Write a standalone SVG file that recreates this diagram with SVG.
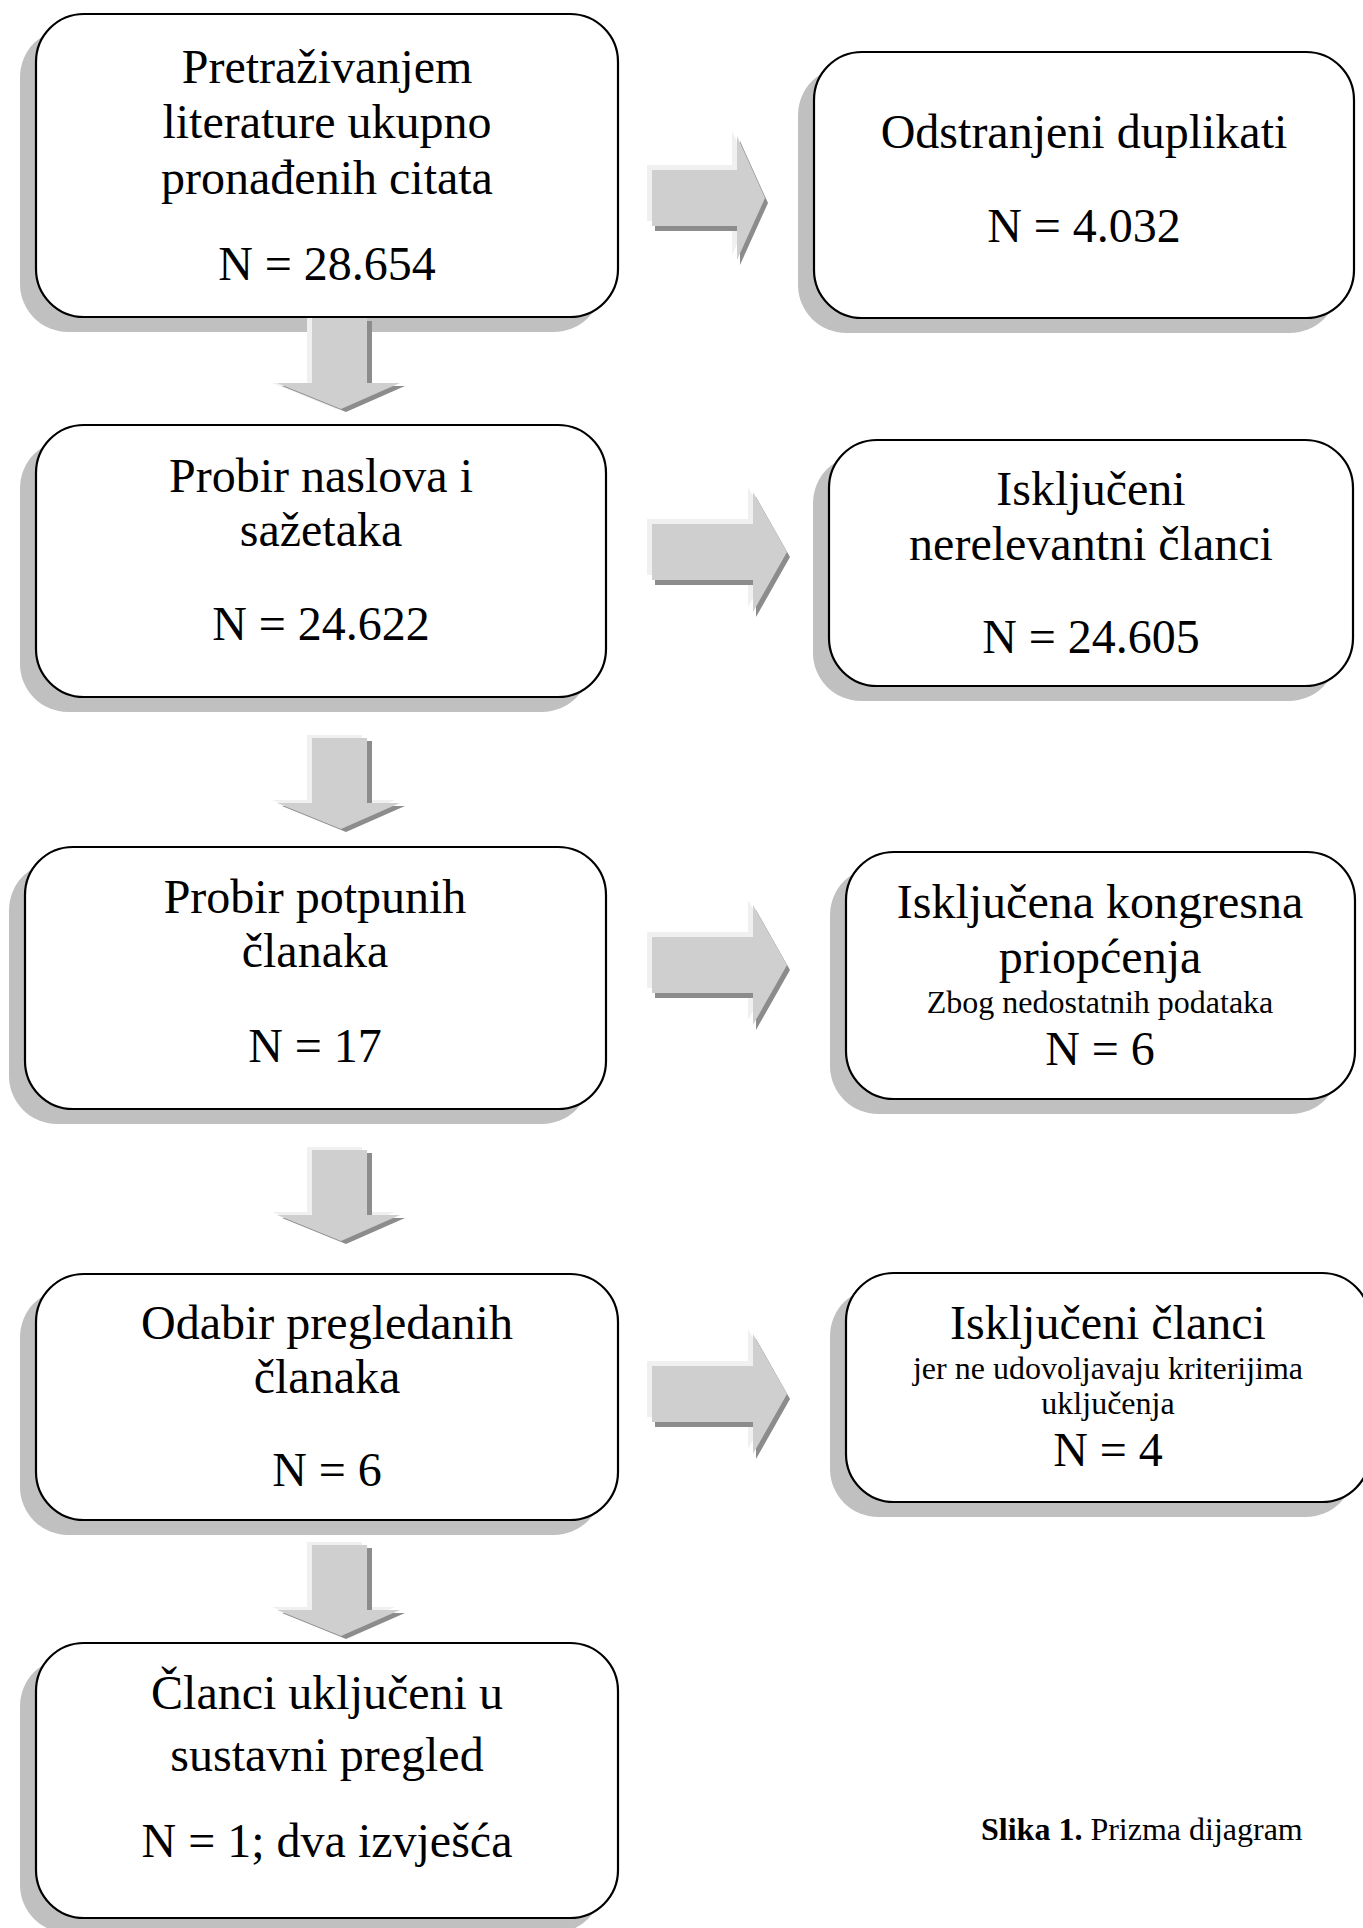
<svg xmlns="http://www.w3.org/2000/svg" xmlns:xlink="http://www.w3.org/1999/xlink" width="1363" height="1928" viewBox="0 0 1363 1928">
<defs>
<style>
.box{fill:#ffffff;stroke:#000000;stroke-width:2.2}
.shd{fill:#c0c0c0;stroke:none}
.t{font-family:"Liberation Serif","Times New Roman",serif;font-size:48px;fill:#000000;text-anchor:middle}
.s{font-size:32px}
.cap{font-family:"Liberation Serif","Times New Roman",serif;font-size:32px;fill:#000000}
.af{fill:#cfcfcf}
.ad{fill:#8c8c8c}
.ah{fill:#f0f0f0}
</style>
<path id="down" d="M312,0 H367 V65 H400 L341,91 L277,65 H312 Z"/>
<path id="right" d="M652,-28 H753 V-60 L787,0 L753,60 V28 H652 Z"/>
<path id="right1" d="M652,170 H737 V136 L765,198 L737,260 V226 H652 Z"/>
</defs>
<rect width="1363" height="1928" fill="#ffffff"/>

<g id="n1">
<rect class="shd" x="20" y="29" width="582" height="303" rx="48"/>
<rect class="box" x="36" y="14" width="582" height="303" rx="48"/>
<text class="t" x="327" y="83">Pretraživanjem</text>
<text class="t" x="327" y="138">literature ukupno</text>
<text class="t" x="327" y="194">pronađenih citata</text>
<text class="t" x="327" y="280">N = 28.654</text>
</g>

<g id="n2">
<rect class="shd" x="798" y="67" width="540" height="266" rx="48"/>
<rect class="box" x="814" y="52" width="540" height="266" rx="48"/>
<text class="t" x="1084" y="148">Odstranjeni duplikati</text>
<text class="t" x="1084" y="242">N = 4.032</text>
</g>

<g id="n3">
<rect class="shd" x="20" y="440" width="570" height="272" rx="48"/>
<rect class="box" x="36" y="425" width="570" height="272" rx="48"/>
<text class="t" x="321" y="492">Probir naslova i</text>
<text class="t" x="321" y="546">sažetaka</text>
<text class="t" x="321" y="640">N = 24.622</text>
</g>

<g id="n4">
<rect class="shd" x="813" y="455" width="524" height="246" rx="48"/>
<rect class="box" x="829" y="440" width="524" height="246" rx="48"/>
<text class="t" x="1091" y="505">Isključeni</text>
<text class="t" x="1091" y="560">nerelevantni članci</text>
<text class="t" x="1091" y="653">N = 24.605</text>
</g>

<g id="n5">
<rect class="shd" x="9" y="862" width="581" height="262" rx="48"/>
<rect class="box" x="25" y="847" width="581" height="262" rx="48"/>
<text class="t" x="315" y="913">Probir potpunih</text>
<text class="t" x="315" y="967">članaka</text>
<text class="t" x="315" y="1062">N = 17</text>
</g>

<g id="n6">
<rect class="shd" x="830" y="867" width="509" height="247" rx="48"/>
<rect class="box" x="846" y="852" width="509" height="247" rx="48"/>
<text class="t" x="1100" y="918">Isključena kongresna</text>
<text class="t" x="1100" y="973">priopćenja</text>
<text class="t s" x="1100" y="1013">Zbog nedostatnih podataka</text>
<text class="t" x="1100" y="1065">N = 6</text>
</g>

<g id="n7">
<rect class="shd" x="20" y="1289" width="582" height="246" rx="48"/>
<rect class="box" x="36" y="1274" width="582" height="246" rx="48"/>
<text class="t" x="327" y="1339">Odabir pregledanih</text>
<text class="t" x="327" y="1393">članaka</text>
<text class="t" x="327" y="1486">N = 6</text>
</g>

<g id="n8">
<rect class="shd" x="830" y="1288" width="524" height="229" rx="48"/>
<rect class="box" x="846" y="1273" width="524" height="229" rx="48"/>
<text class="t" x="1108" y="1339">Isključeni članci</text>
<text class="t s" x="1108" y="1379">jer ne udovoljavaju kriterijima</text>
<text class="t s" x="1108" y="1414">uključenja</text>
<text class="t" x="1108" y="1466">N = 4</text>
</g>

<g id="n9">
<rect class="shd" x="20" y="1658" width="582" height="275" rx="48"/>
<rect class="box" x="36" y="1643" width="582" height="275" rx="48"/>
<text class="t" x="327" y="1709">Članci uključeni u</text>
<text class="t" x="327" y="1771">sustavni pregled</text>
<text class="t" x="327" y="1857">N = 1; dva izvješća</text>
</g>

<g id="connectors">
<g transform="translate(0,318)"><use xlink:href="#down" class="ah" x="-5"/><use xlink:href="#down" class="ad" x="5" y="3"/><use xlink:href="#down" class="af"/></g>
<g transform="translate(0,738)"><use xlink:href="#down" class="ah" x="-5" y="-3"/><use xlink:href="#down" class="ad" x="5" y="3"/><use xlink:href="#down" class="af"/></g>
<g transform="translate(0,1150)"><use xlink:href="#down" class="ah" x="-5" y="-3"/><use xlink:href="#down" class="ad" x="5" y="3"/><use xlink:href="#down" class="af"/></g>
<g transform="translate(0,1545)"><use xlink:href="#down" class="ah" x="-5" y="-3"/><use xlink:href="#down" class="ad" x="5" y="3"/><use xlink:href="#down" class="af"/></g>

<g><use xlink:href="#right1" class="ah" x="-5" y="-5"/><use xlink:href="#right1" class="ad" x="3" y="5"/><use xlink:href="#right1" class="af"/></g>
<g transform="translate(0,552)"><use xlink:href="#right" class="ah" x="-5" y="-5"/><use xlink:href="#right" class="ad" x="3" y="5"/><use xlink:href="#right" class="af"/></g>
<g transform="translate(0,965)"><use xlink:href="#right" class="ah" x="-5" y="-5"/><use xlink:href="#right" class="ad" x="3" y="5"/><use xlink:href="#right" class="af"/></g>
<g transform="translate(0,1394)"><use xlink:href="#right" class="ah" x="-5" y="-5"/><use xlink:href="#right" class="ad" x="3" y="5"/><use xlink:href="#right" class="af"/></g>
</g>

<text class="cap" x="981" y="1840"><tspan font-weight="bold">Slika 1.</tspan> Prizma dijagram</text>
</svg>
